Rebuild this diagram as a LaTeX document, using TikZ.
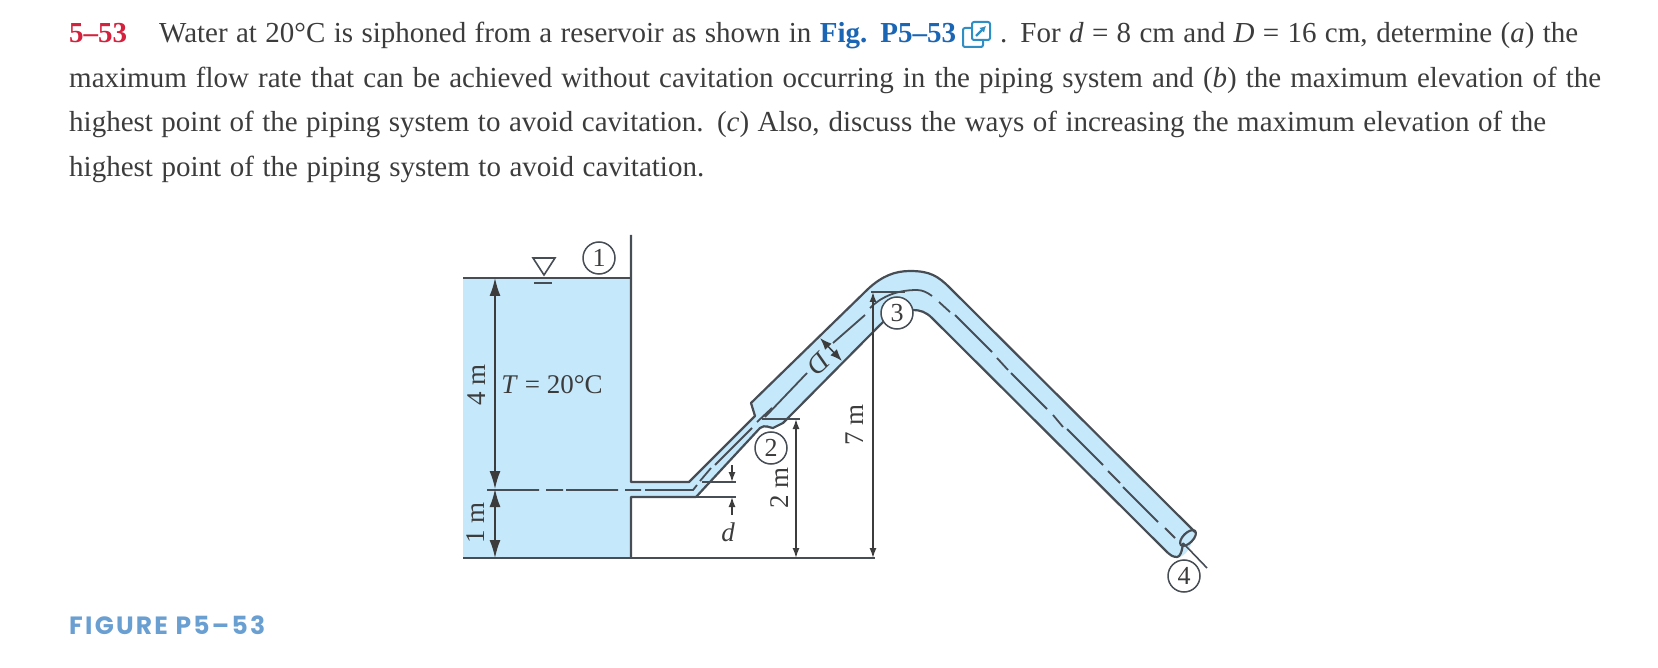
\documentclass[tikz,border=0pt]{standalone}
\usepackage{fontspec}
\setmainfont{Liberation Serif}
\newfontfamily\capfont[LetterSpace=9]{Poppins}
\usetikzlibrary{arrows.meta}
\definecolor{water}{HTML}{C5E8FB}
\definecolor{wall}{HTML}{474D55}
\definecolor{ink}{HTML}{3C3C3C}
\definecolor{numred}{HTML}{D4213D}
\definecolor{figblue}{HTML}{1A66B5}
\definecolor{capblue}{HTML}{6A9FD2}
\definecolor{iconblue}{HTML}{2F8FC4}
\tikzset{
  x=1pt,y=-1pt,
  wallline/.style={draw=wall,line width=2.2pt,line join=round},
  thinline/.style={draw=wall,line width=1.6pt},
  center line/.style={draw=wall,line width=1.8pt},
  bigdim/.style={draw=ink,line width=1.5pt,{Latex[length=18pt,width=11pt]}-{Latex[length=18pt,width=11pt]}},
  smalldim/.style={draw=ink,line width=1.5pt,{Latex[length=10pt,width=7pt]}-{Latex[length=10pt,width=7pt]}},
  meddim/.style={draw=ink,line width=1.5pt,{Latex[length=12pt,width=9pt]}-{Latex[length=12pt,width=9pt]}},
  onetip/.style={draw=ink,line width=1.5pt,-{Latex[length=10pt,width=7pt]}},
  station/.style={circle,draw=wall,line width=1.5pt,fill=white,minimum size=32pt,inner sep=0pt,font=\fontsize{26}{26}\selectfont,text=ink},
  label/.style={font=\fontsize{27}{27}\selectfont,text=ink,inner sep=0pt},
  para/.style={anchor=base west,inner sep=0pt,font=\fontsize{29}{30}\selectfont,text=ink}
}
\begin{document}
\begin{tikzpicture}
\useasboundingbox (0,0) rectangle (1658,668);
% text
\node[para] (num) at (69,43) {\makebox[58pt][s]{\textcolor{numred}{\textbf{5--53}}}};
\node[para] (l1a) at (159,43) {\makebox[797pt][s]{Water at 20°C is siphoned from a reservoir as shown in \textcolor{figblue}{\textbf{Fig. P5--53}}}};
\node[para] (l1b) at (1000,43) {\makebox[578pt][s]{. For \textit{d} = 8 cm and \textit{D} = 16 cm, determine (\textit{a}) the}};
\node[para] (l2) at (69,88) {\makebox[1532pt][s]{maximum flow rate that can be achieved without cavitation occurring in the piping system and (\textit{b}) the maximum elevation of the}};
\node[para] (l3) at (69,132) {\makebox[1477pt][s]{highest point of the piping system to avoid cavitation. (\textit{c}) Also, discuss the ways of increasing the maximum elevation of the}};
\node[para] (l4) at (69,177) {\makebox[635pt][s]{highest point of the piping system to avoid cavitation.}};
\node[anchor=base west,inner sep=0pt,text=capblue,font=\capfont\bfseries\fontsize{25}{25}\selectfont] (cap) at (69,634) {FIGURE P5–53};
% link icon
\draw[iconblue,line width=2pt,rounded corners=2pt] (972,22) rectangle (990,40);
\draw[iconblue,line width=2pt,rounded corners=2pt] (972,28) -- (963,28) -- (963,47) -- (983,47) -- (983,40);
\draw[iconblue,line width=2.4pt,-{Latex[length=6pt,width=7pt]}] (976,36) -- (986,26);
% water
\fill[water] (463,278) -- (631,278) -- (631,482) -- (689,482) -- (755,416) -- (751,403) -- (868,289)
  .. controls (882,276) and (895,271) .. (910,271) .. controls (930,271) and (938,276) .. (950,288)
  -- (1195,532) .. controls (1192,545) and (1186,558) .. (1177,557) .. controls (1173,557) and (1170,555) .. (1168,553)
  -- (932,318) .. controls (926,312) and (920,310) .. (913,310) .. controls (900,310) and (890,315) .. (880,325)
  -- (783,423) -- (773,428) -- (760,428) -- (696,497) -- (631,497) -- (631,558) -- (463,558) -- cycle;
% named points
\coordinate (wallTop) at (631,235);
\coordinate (surfL) at (463,278);
\coordinate (surfR) at (631,278);
\coordinate (baseL) at (463,558);
\coordinate (baseR) at (875,558);
\coordinate (wallBase) at (631,558);
% walls
\draw[wallline] (surfL) -- (surfR);
\draw[wallline] (wallTop) -- (631,482) -- (689,482) -- (755,416) -- (751,403) -- (868,289)
  .. controls (882,276) and (895,271) .. (910,271) .. controls (930,271) and (938,276) .. (950,288) -- (1195,532);
\draw[wallline] (wallBase) -- (631,497) -- (696,497) -- (760,428) .. controls (765,424) and (770,428) .. (773,428) -- (783,423) -- (880,325)
  .. controls (890,315) and (900,310) .. (913,310) .. controls (920,310) and (926,312) .. (932,318) -- (1168,553);
\draw[wallline] (1168,553) .. controls (1170,555) and (1173,557) .. (1177,557) .. controls (1180,557) and (1182,552) .. (1183,543);
\draw[wallline] (baseL) -- (baseR);
\draw[wallline] (1188,538) circle[x radius=10pt,y radius=5pt,rotate=45];
% centre line
\draw[center line] (487,490) -- (539,490) (546,490) -- (563,490) (566,490) -- (618,490) (625,490) -- (641,490) (645,490) -- (693,490) -- (697,485);
\draw[center line] (700,481) -- (711,468) (715,465) -- (752,428) (757,422) -- (772,408) (765,417) -- (807,373) (833,343) -- (865,315);
\draw[center line] (870,308) .. controls (880,298) and (895,290) .. (917,290) .. controls (923,290) and (928,293) .. (932,296);
\draw[center line] (939,302) -- (950,312) (955,315) -- (992,352) (997,358) -- (1008,370) (1011,373) -- (1047,409) (1053,415) -- (1063,427) (1067,429) -- (1103,465) (1108,471) -- (1120,483) (1123,487) -- (1158,522) (1165,528) -- (1175,538);
% surface symbol
\draw[wall,line width=1.6pt] (533,258) -- (555,258) -- (544,275) -- cycle;
\draw[wall,line width=1.8pt] (534,283) -- (552,283);
% dimensions
\coordinate (d4a) at (495,278);
\coordinate (d4b) at (495,489);
\coordinate (d1b) at (495,558);
\draw[bigdim] (d4a) -- (d4b);
\draw[bigdim] (d4b) -- (d1b);
\node[label,rotate=90] (l4m) at (477,385) {4 m};
\node[label,rotate=90] (l1m) at (476,523) {1 m};
\node[label,anchor=center] (temp) at (552,385) {\textit{T} = 20°C};
% d
\coordinate (dUp) at (732,482);
\coordinate (dLo) at (732,497);
\draw[thinline] (702,482) -- (736,482);
\draw[thinline] (696,497) -- (736,497);
\draw[onetip] (732,465) -- (dUp);
\draw[onetip] (732,515) -- (dLo);
\node[label,font=\itshape\fontsize{27}{27}\selectfont] (dlab) at (728,532) {d};
% 2 m
\coordinate (d2a) at (796,419);
\coordinate (d2b) at (796,558);
\draw[thinline] (762,419) -- (800,419);
\draw[smalldim] (d2a) -- (d2b);
\node[label,rotate=90] (l2m) at (780,488) {2 m};
% 7 m
\coordinate (d7a) at (873,292);
\coordinate (d7b) at (873,558);
\draw[thinline] (871,292) -- (905,292);
\draw[smalldim] (d7a) -- (d7b);
\node[label,rotate=90] (l7m) at (855,425) {7 m};
% D
\coordinate (dDa) at (820,338);
\coordinate (dDb) at (842,361);
\draw[meddim] (dDa) -- (dDb);
\node[label,rotate=-135] (lD) at (819,364) {\textit{D}};
% stations
\node[station] (s1) at (599,258) {1};
\node[station] (s2) at (771,448) {2};
\node[station] (s3) at (897,313) {3};
\draw[thinline] (1183,543) -- (1207,568);
\node[station] (s4) at (1184,576) {4};
\end{tikzpicture}
\end{document}
